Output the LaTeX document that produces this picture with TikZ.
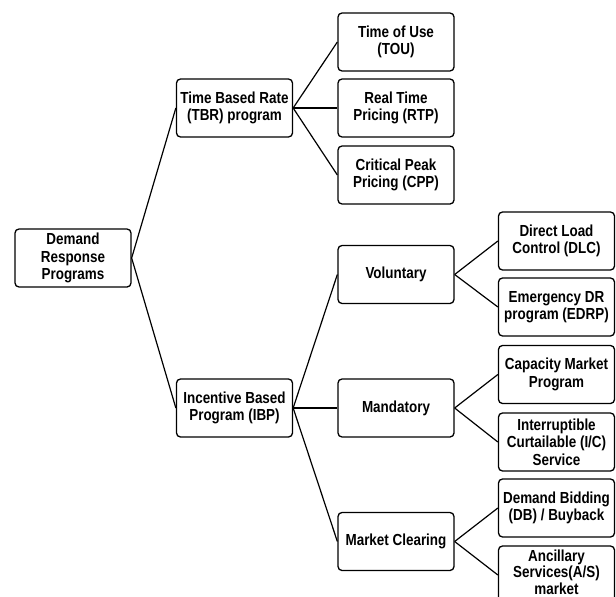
\documentclass[tikz,border=0pt]{standalone}
\usepackage{fontspec}
\setmainfont[FakeStretch=0.84]{Liberation Sans}
\begin{document}
\begin{tikzpicture}[x=1pt,y=-1pt,
  box/.style={draw, rounded corners=4pt, line width=1.3pt, minimum width=116pt, minimum height=58pt,
    align=center, inner sep=0pt, font=\bfseries\fontsize{16}{17.3}\selectfont},
  link/.style={line width=1.2pt}]
\useasboundingbox (0,0) rectangle (616,597);
\clip (0,0) rectangle (616,597);
\node[box] (root) at (73,258) {Demand\\Response\\Programs};
\node[box] (tbr) at (234.5,108) {Time Based Rate\\(TBR) program};
\node[box] (ibp) at (234.5,408) {Incentive Based\\Program (IBP)};
\node[box] (tou) at (396,42) {Time of Use\\(TOU)};
\node[box] (rtp) at (396,108) {Real Time\\Pricing (RTP)};
\node[box] (cpp) at (396,175) {Critical Peak\\Pricing (CPP)};
\node[box] (vol) at (396,274.5) {Voluntary};
\node[box] (mand) at (396,408) {Mandatory};
\node[box] (mc) at (396,541.5) {Market Clearing};
\node[box] (dlc) at (556.5,241) {Direct Load\\Control (DLC)};
\node[box] (edrp) at (556.5,307) {Emergency DR\\program (EDRP)};
\node[box] (cap) at (556.5,374.5) {Capacity Market\\Program};
\node[box] (ic) at (556.5,442) {Interruptible\\Curtailable (I/C)\\Service};
\node[box] (db) at (556.5,508) {Demand Bidding\\(DB) / Buyback};
\node[box, text depth=6pt, font=\bfseries\fontsize{16}{16.8}\selectfont] (as) at (556.5,575) {Ancillary\\Services(A/S)\\market};
\draw[link] (root.east) -- (tbr.west);
\draw[link] (root.east) -- (ibp.west);
\draw[link] (tbr.east) -- (tou.west);
\draw[link] (tbr.east) -- (rtp.west);
\draw[link] (tbr.east) -- (cpp.west);
\draw[link] (ibp.east) -- (vol.west);
\draw[link] (ibp.east) -- (mand.west);
\draw[link] (ibp.east) -- (mc.west);
\draw[link] (vol.east) -- (dlc.west);
\draw[link] (vol.east) -- (edrp.west);
\draw[link] (mand.east) -- (cap.west);
\draw[link] (mand.east) -- (ic.west);
\draw[link] (mc.east) -- (db.west);
\draw[link] (mc.east) -- (as.west);
\end{tikzpicture}
\end{document}
